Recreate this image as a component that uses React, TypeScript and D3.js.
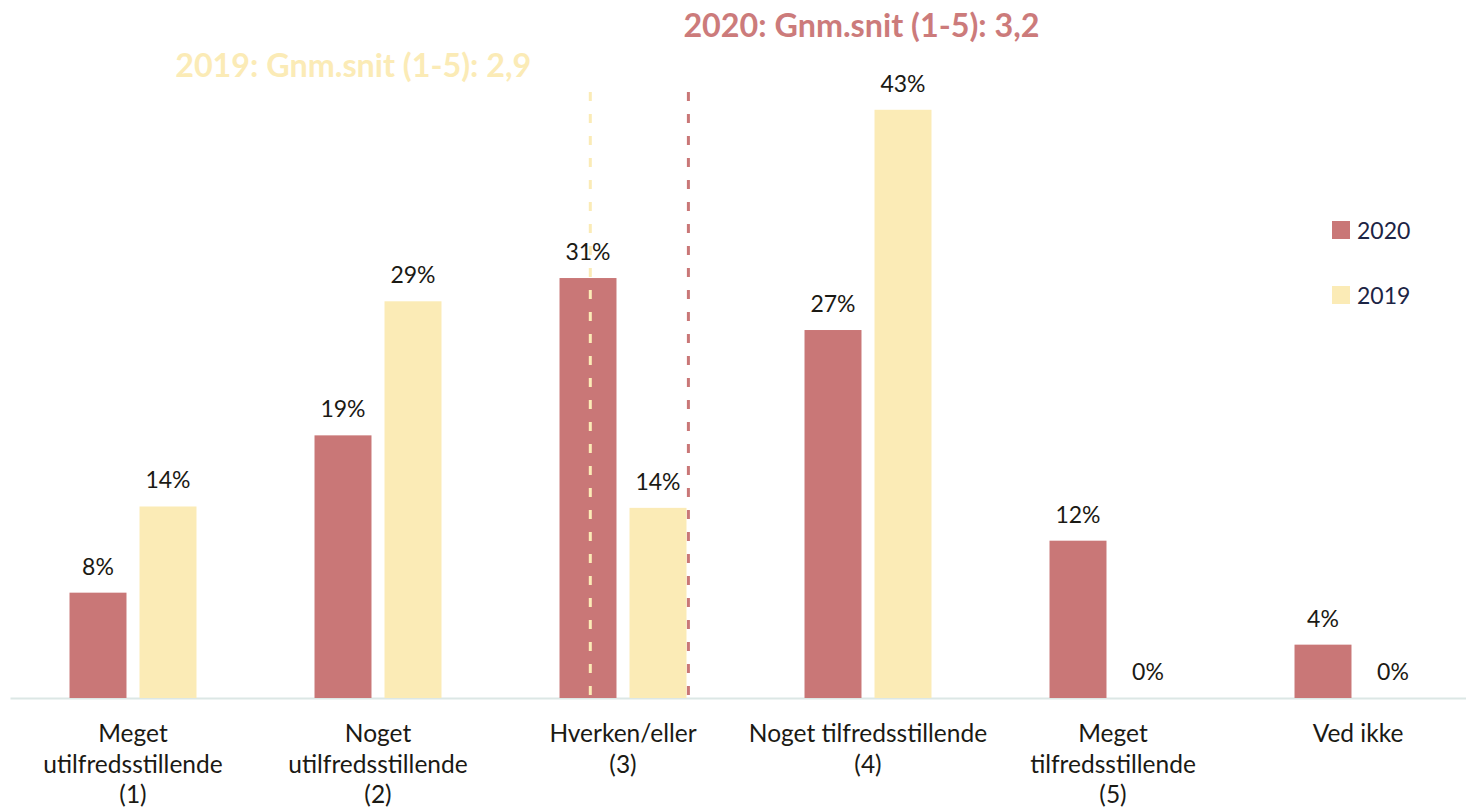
import React, { useRef, useEffect } from "react";
import * as d3 from "d3";

// category tick labels, one entry per line
const categories = [
  ["Meget", "utilfredsstillende", "(1)"],
  ["Noget", "utilfredsstillende", "(2)"],
  ["Hverken/eller", "(3)"],
  ["Noget tilfredsstillende", "(4)"],
  ["Meget", "tilfredsstillende", "(5)"],
  ["Ved ikke"],
];
const seriesNames = ["2020", "2019"];
const values2020 = [7.7, 19.2, 30.7, 26.9, 11.5, 3.9];
const values2019 = [14.0, 29.0, 13.9, 43.0, 0, 0];
const avg2020 = 3.2;
const avg2019 = 2.9;

const COLORS = { "2020": "#C97777", "2019": "#FBEBB6" };
const FONT = "Lato, 'Open Sans', sans-serif";

const App = () => {
  const svgRef = useRef<SVGSVGElement>(null);

  useEffect(() => {
    const svg = d3.select(svgRef.current);
    svg.selectAll("*").remove();

    const width = 1466;
    const height = 812;
    const baseline = 698;
    const top = 92;

    const keys = categories.map((_, i) => String(i));
    const x = d3.scaleBand().domain(keys).range([10.5, 1480.5]).padding(0);
    const xs = d3
      .scaleBand()
      .domain(seriesNames)
      .range([0, x.bandwidth()])
      .paddingInner(0.186)
      .paddingOuter(0.843);
    const y = d3.scaleLinear().domain([0, 44.3]).range([baseline, top]);

    const rows = categories.map((_, i) => ({
      key: String(i),
      "2020": values2020[i],
      "2019": values2019[i],
    }));

    // axis line
    svg
      .append("line")
      .attr("x1", x.range()[0])
      .attr("x2", x.range()[1])
      .attr("y1", baseline + 0.5)
      .attr("y2", baseline + 0.5)
      .attr("stroke", "#DCE7E5")
      .attr("stroke-width", 2);

    const groups = svg
      .selectAll("g.cat")
      .data(rows)
      .enter()
      .append("g")
      .attr("class", "cat")
      .attr("transform", (d) => `translate(${x(d.key)},0)`);

    groups
      .selectAll("rect")
      .data((d) => seriesNames.map((s) => ({ s, v: d[s] as number })))
      .enter()
      .append("rect")
      .attr("x", (d) => xs(d.s)!)
      .attr("width", xs.bandwidth())
      .attr("y", (d) => y(d.v))
      .attr("height", (d) => baseline - y(d.v))
      .attr("fill", (d) => COLORS[d.s]);

    groups
      .selectAll("text.val")
      .data((d) => seriesNames.map((s) => ({ s, v: d[s] as number })))
      .enter()
      .append("text")
      .attr("class", "val")
      .attr("x", (d) => xs(d.s)! + xs.bandwidth() / 2)
      .attr("y", (d) => y(d.v) - 18)
      .attr("text-anchor", "middle")
      .attr("font-family", FONT)
      .attr("font-size", 23)
      .attr("fill", "#1B1A14")
      .text((d) => `${Math.round(d.v)}%`);

    // category labels
    groups
      .append("text")
      .attr("text-anchor", "middle")
      .attr("font-family", FONT)
      .attr("font-size", 24.5)
      .attr("fill", "#1B1A14")
      .selectAll("tspan")
      .data((d) => categories[+d.key])
      .enter()
      .append("tspan")
      .attr("x", x.bandwidth() / 2)
      .attr("y", (_, i) => 742 + i * 30.5)
      .text((d) => d);

    // average markers, placed relative to the middle category (3)
    const mid = x("2")! + x.bandwidth() / 2;
    const avgX = d3.scaleLinear().domain([2, 4]).range([mid - 327, mid + 327]);
    const fmt = (v: number) => v.toFixed(1).replace(".", ",");

    [
      { year: "2019", v: avg2019 },
      { year: "2020", v: avg2020 },
    ].forEach((a) => {
      svg
        .append("line")
        .attr("x1", avgX(a.v))
        .attr("x2", avgX(a.v))
        .attr("y1", top)
        .attr("y2", baseline)
        .attr("stroke", COLORS[a.year])
        .attr("stroke-width", 3)
        .attr("stroke-dasharray", "9,13");
    });

    svg
      .append("text")
      .attr("x", avgX(avg2020) - 5)
      .attr("y", 37)
      .attr("font-family", FONT)
      .attr("font-weight", "bold")
      .attr("font-size", 32.3)
      .attr("fill", "#CC7B7B")
      .text(`2020: Gnm.snit (1-5): ${fmt(avg2020)}`);

    svg
      .append("text")
      .attr("x", avgX(avg2019) - 59)
      .attr("y", 77)
      .attr("text-anchor", "end")
      .attr("font-family", FONT)
      .attr("font-weight", "bold")
      .attr("font-size", 32.3)
      .attr("fill", "#FBEBB6")
      .text(`2019: Gnm.snit (1-5): ${fmt(avg2019)}`);

    // legend
    const legend = svg
      .selectAll("g.legend")
      .data(seriesNames)
      .enter()
      .append("g")
      .attr("class", "legend")
      .attr("transform", (_, i) => `translate(1332,${221 + i * 65})`);

    legend
      .append("rect")
      .attr("width", 18)
      .attr("height", 18)
      .attr("fill", (d) => COLORS[d]);

    legend
      .append("text")
      .attr("x", 25)
      .attr("y", 18)
      .attr("font-family", FONT)
      .attr("font-size", 23)
      .attr("fill", "#1C2445")
      .text((d) => d);

    svg.attr("width", width).attr("height", height);
  }, []);

  return (
    <div>
      <svg
        ref={svgRef}
        width={1466}
        height={812}
        style={{ position: "absolute", left: 0, top: 0, background: "#fff" }}
      ></svg>
    </div>
  );
};

export default App;
